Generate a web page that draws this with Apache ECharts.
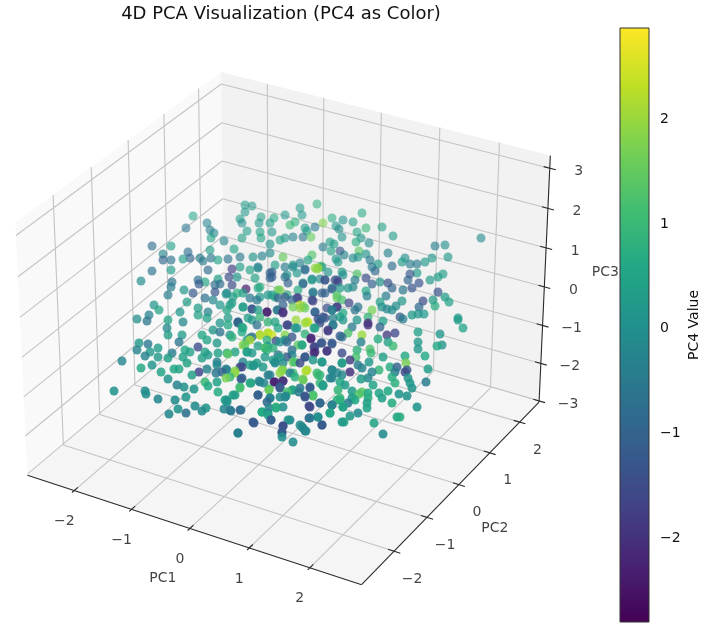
<!DOCTYPE html>
<html><head><meta charset="utf-8"><style>html,body{margin:0;padding:0;background:#fff}#c{width:727px;height:627px}</style>
<script src="https://cdn.jsdelivr.net/npm/echarts@6/dist/echarts.min.js"></script></head><body><div id="c"></div>
<script>
// Tick values and labels
const xTicks=[-2,-1,0,1,2], yTicks=[-2,-1,0,1,2], zTicks=[-3,-2,-1,0,1,2,3], cTicks=[-2,-1,0,1,2];
const xLim=[-2.83,2.84], yLim=[-2.96,2.67], zLim=[-3.03,3.31], cLim=[-2.8,2.87];
// Points: [view x, view y, PC4]
const upperLeft=[[193,216,.5],[207,223,-.3],[186,228,-.6],[210,230,-.4],[214,233,-.2],[211,238,.5],[224,241,-.2],[152,246,-.8],[171,246,.4],[234,249,.5],[163,254,-.2],[188,252,-.8],[190,258,-1],[163,260,-1],[171,260,-.7],[183,259,.3],[200,258,-.4],[203,261,-.5],[211,258,-.6],[218,260,.4],[210,250,.3],[228,259,-.7],[240,257,-.5],[253,257,.1],[262,256,-.3],[270,253,-.1],[152,271,-.6],[171,270,.3],[208,270,-.8],[141,281,-.1],[172,282,-.6],[171,287,-.4],[198,280,-.7],[199,284,-1.2],[205,282,.5],[218,279,.4],[215,285,-.7],[220,284,-.8],[232,285,-1.5],[229,277,-1.5],[232,269,-1.8],[246,289,-2.4],[184,290,.2],[193,293,-1.2],[215,292,-1.3],[168,295,-.4],[205,298,-.7],[213,300,-.2],[220,305,.2],[226,294,.1],[154,305,.1],[159,310,.5],[149,315,-.3],[137,319,-.1],[147,321,-.6],[187,302,.3],[198,308,.3],[180,312,.1],[208,312,-.3],[198,315,.4],[168,320,.5],[183,322,-.2],[207,318,.4],[220,323,.2],[245,205,.3],[252,206,.2],[245,212,.2],[240,219,.3],[242,223,-.1],[261,217,.4],[259,223,.2],[270,223,.3],[274,218,.6],[285,215,.2],[247,231,.3],[260,232,.4],[272,232,.2],[242,238,.4],[261,238,.5],[270,244,.1],[280,240,.4],[285,238,.2],[283,257,1.5],[270,273,-1],[272,277,-1.2],[258,268,-.2],[240,267,.3],[285,277,-.6],[255,278,.5],[260,287,.8],[280,290,1.8],[285,267,-.5],[272,295,.2],[257,300,-.5],[278,298,-1],[285,297,-1.2],[237,293,.8],[243,307,.3],[252,309,-1],[232,303,.4],[267,312,-2.2],[283,312,-2.2],[260,317,.9],[278,310,-1],[248,318,.4],[238,322,-1],[227,310,.5]];
const upperRight=[[300,208,.3],[317,204,.8],[302,215,.2],[295,222,.8],[290,225,1],[332,218,.7],[343,220,.1],[353,222,.3],[362,213,.6],[323,223,1.8],[315,227,-.5],[305,228,.2],[336,226,.2],[339,229,-.1],[366,228,.9],[382,227,.4],[357,232,.6],[393,236,.3],[481,238,-.1],[307,231,.3],[303,237,-.6],[311,237,1.5],[293,237,-.3],[342,237,.1],[361,238,.2],[356,242,.7],[369,243,-.1],[330,242,.4],[334,244,.3],[323,247,-.4],[340,251,-1.3],[331,251,.5],[435,246,-.4],[445,245,-.1],[448,257,.2],[388,253,-.3],[359,251,1.4],[344,255,-.3],[366,254,.1],[336,259,.1],[353,258,-.1],[358,257,.2],[370,260,-.5],[405,258,0],[432,258,.2],[402,262,.3],[410,264,-.4],[417,264,-.5],[425,262,.2],[392,266,-.8],[378,264,.4],[372,267,-.5],[338,262,.2],[308,260,.5],[312,255,1.3],[300,263,-.3],[293,267,-.2],[317,269,1.9],[305,270,-.8],[321,266,1.3],[328,272,.1],[343,275,0],[357,274,1.3],[375,271,-.8],[410,274,-1.2],[408,280,-1],[417,273,.3],[443,274,.4],[438,277,.3],[430,280,.3],[366,278,-1.5],[325,280,-1.5],[335,280,-1.6],[338,282,-1.8],[312,279,-.3],[320,279,-.1],[303,284,-1],[355,280,-.5],[372,284,-1],[380,282,.1],[388,283,-1.4],[392,288,-1],[419,283,-1.3],[412,288,-1.3],[348,288,.1],[353,287,-.2],[403,290,-.5],[366,291,.6],[332,289,-1.2],[313,292,-.1],[322,293,-1],[337,295,1.2],[298,290,.7],[438,292,-1.3],[445,297,.3],[449,302,.4],[367,296,-.3],[386,296,-.4],[423,301,-1.5],[433,300,.3],[380,302,.4],[402,301,.2],[435,306,.7],[419,307,-.9],[396,306,-.1],[382,307,.1],[387,309,-.2],[358,307,-.5],[355,310,-.6],[349,303,-1.6],[337,307,-1.8],[343,313,.6],[332,310,-1.3],[327,308,-1.4],[337,298,1.5],[342,300,1.2],[315,312,-1],[305,308,1.5],[297,298,-2],[312,300,-1.5],[323,317,-1.5],[300,308,1.9],[307,322,2.2],[318,319,-1.7],[333,318,-.3],[343,320,.2],[357,320,.1],[368,317,.9],[372,310,1.7],[392,310,-.1],[400,317,-1.2],[412,315,.2],[424,314,.2],[458,318,.3],[418,314,.1],[383,321,.4],[368,323,-2],[403,319,-.4]];
const lowerLeft=[[122,361,-.2],[114,391,.1],[137,350,-.3],[139,343,.2],[148,344,-.6],[145,356,-.3],[150,352,.2],[141,368,.6],[152,365,.1],[158,348,.3],[158,357,.2],[172,353,-.4],[168,358,.3],[161,372,.5],[168,379,.1],[174,369,.5],[179,369,.5],[187,363,.5],[183,357,.4],[190,352,.4],[185,350,.6],[198,347,-1.5],[179,342,-.6],[182,335,.3],[167,328,-.2],[168,335,.3],[202,335,.5],[207,340,.5],[217,343,.2],[205,352,.5],[202,358,.4],[208,355,.3],[217,362,-.3],[218,353,.4],[227,353,.7],[235,352,.5],[247,352,.1],[192,375,.4],[199,372,-1.6],[207,369,-.3],[216,373,-.6],[222,372,-1],[226,369,-.4],[217,365,-.2],[226,378,1.7],[235,373,1.9],[243,362,-.2],[242,367,-1.5],[254,365,.3],[177,385,-.3],[184,387,0],[194,389,.1],[205,382,1],[208,386,.6],[217,382,.4],[218,392,.7],[145,391,0],[146,394,0],[158,399,-.2],[175,400,-.1],[186,397,.2],[225,400,.3],[227,402,.1],[233,395,.5],[240,388,1.2],[251,383,.3],[241,379,-1.2],[259,381,-.1],[264,383,-.2],[258,395,-1.3],[269,390,1.6],[275,382,-1.9],[283,381,-1.9],[280,387,-1.2],[270,398,-.7],[280,397,-.1],[286,396,0],[178,409,.1],[195,406,-.1],[206,408,.2],[202,411,-.1],[169,414,-.2],[186,413,-.7],[224,409,-.2],[231,411,-.5],[240,410,-1],[262,412,.6],[269,408,-.2],[276,408,.7],[268,415,.5],[271,420,-1],[253,422,-1.3],[238,433,-.8],[283,426,-1.5],[282,433,-1.2],[282,437,0],[285,397,-.2],[260,335,2.1],[268,333,2.3],[243,345,1.9],[247,340,.4],[252,337,-.7],[265,348,1],[273,348,.8],[282,370,1.7],[270,375,-.2],[250,365,.5],[263,367,.2],[275,363,-.1],[232,337,.8],[242,327,.6],[228,325,.6],[220,332,-.6],[213,330,.2],[267,340,.8],[280,342,.1],[285,340,-.2],[287,325,-2],[257,325,-.7],[238,323,-1],[252,353,.2],[278,355,-.6],[287,357,-1.2]];
const lowerRight=[[463,328,.5],[458,320,.3],[440,334,.2],[442,345,.1],[437,346,.6],[418,332,.4],[418,342,.2],[418,349,.2],[425,356,.6],[405,356,.6],[406,363,1.7],[428,369,.3],[426,382,-.4],[417,407,.1],[387,335,-1.8],[395,333,-1.6],[378,339,.7],[388,342,.4],[393,346,1],[370,349,1.3],[371,353,1],[383,357,.4],[390,367,.7],[397,367,-1],[395,372,-.5],[405,372,-1.5],[407,370,-1.2],[379,370,.9],[372,372,-.3],[392,377,.7],[408,378,.1],[395,383,.8],[410,383,.2],[412,388,.1],[388,391,.6],[379,393,.5],[399,394,.1],[407,396,.1],[382,398,.4],[392,403,.7],[397,417,.5],[400,417,.7],[374,423,.5],[383,434,-.1],[344,422,.5],[368,398,.7],[367,403,.4],[367,408,.5],[359,394,1.3],[368,393,.6],[352,391,.3],[352,398,.2],[348,403,-.4],[355,400,.6],[343,407,.3],[337,400,.8],[332,405,-1.6],[330,413,.1],[350,416,.2],[358,413,-.1],[318,417,0],[309,418,-1.3],[322,425,-1.1],[300,425,-.1],[305,431,-.3],[303,428,-.2],[293,442,-.1],[290,420,-.3],[309,406,-1.4],[320,403,-.8],[313,396,1.3],[305,396,-1.2],[299,392,-.4],[310,388,-1.2],[323,386,.4],[292,390,1.2],[295,377,.8],[303,379,1.8],[306,371,2.2],[318,375,1.2],[330,378,-.2],[340,382,.6],[332,370,-.4],[300,363,-1.5],[305,357,-1.3],[313,360,.2],[322,362,.1],[314,353,-2.2],[314,347,-2],[327,351,-1.9],[321,343,-1.2],[332,344,-1.2],[311,338,-2.2],[302,345,.9],[305,334,.9],[314,328,.5],[305,323,2],[328,331,-1.8],[333,325,-1],[340,336,-1.2],[348,333,1.2],[362,335,2],[361,342,-.3],[357,350,.8],[342,353,-1.5],[352,327,-.5],[368,325,-2],[380,327,-1],[356,357,1.2],[350,360,-1.8],[350,372,-2],[358,365,-.5],[362,368,-.3],[369,362,.2],[342,363,.5],[361,379,.3],[373,385,.5],[368,378,-.2],[337,373,-.2],[320,383,1],[293,362,1.5],[292,350,-.8],[298,345,1.4],[292,337,-1.3],[295,328,.2],[320,323,-1.4],[345,385,.3],[362,392,1.4],[340,398,1],[300,305,2.4],[296,320,2],[318,268,2.1],[272,335,2.4],[250,340,2.1]];
const centreUpper=[[237,277,.1],[250,270,.5],[258,267,-.3],[272,272,-1],[270,278,-1],[275,265,.4],[287,275,.1],[288,283,-1],[293,265,.3],[305,269,-.6],[297,273,.2],[303,283,-.1],[315,268,1.9],[312,280,.3],[325,280,-1.2],[322,267,.4],[337,280,-1],[342,272,.4],[325,293,-1],[332,288,-.1],[340,288,.2],[313,293,-.6],[313,301,-1.6],[298,298,-1.6],[292,300,-1],[278,290,1.5],[287,295,.8],[275,297,.6],[268,295,.2],[258,288,.5],[260,297,.3],[250,298,-.5],[243,293,.4],[233,297,.3],[227,293,-.4],[243,307,.4],[252,309,-1.4],[230,305,.3],[228,318,.3],[238,322,-1],[243,328,.5],[252,320,.2],[258,310,.3],[267,312,-2.3],[268,322,.9],[277,310,-.5],[283,313,-2],[283,305,-1],[275,322,.5],[288,325,-1.5],[293,307,1.6],[303,306,1.8],[308,322,2.3],[297,328,.1],[315,328,.4],[320,320,-.8],[315,312,-1],[325,318,-1.3],[337,307,-1.7],[332,310,-.2],[340,317,.4],[342,337,-.8],[328,330,-1.8],[333,325,-.3],[268,333,2.2],[260,335,2.2],[285,335,1.8],[287,342,-.8],[278,328,.5],[250,338,-.5],[230,335,.1],[242,332,.6],[276,341,-1.5],[302,345,.5],[311,339,-2.2],[322,343,-1.3],[332,343,-1.2],[315,347,-1.5],[268,346,.2],[258,346,.4],[245,345,1.5]];
const centreLower=[[327,351,-1.8],[315,352,-1.8],[305,357,-1.2],[267,350,.9],[265,357,.3],[253,366,.1],[247,352,.5],[240,367,-1.5],[235,371,1.8],[228,354,1.4],[230,377,1],[227,370,-.3],[242,378,-.9],[250,383,.7],[240,387,.8],[235,395,.3],[227,400,.2],[230,410,-.4],[241,410,-.7],[258,395,-1],[260,382,-.3],[268,375,-.4],[274,382,-2.3],[283,381,-2],[280,388,-1.2],[269,389,1],[270,398,-.3],[267,402,-.9],[276,407,.9],[283,407,0],[262,412,.6],[268,413,-.2],[271,420,-1.1],[254,423,-1.2],[238,433,-.3],[283,426,-1.4],[282,432,-1.2],[288,420,.1],[302,427,-.1],[306,431,-.2],[322,425,-1.2],[310,418,-.5],[318,417,0],[330,413,.6],[342,422,.2],[332,405,-.1],[310,407,-1.6],[320,403,-.9],[340,400,.8],[313,395,1],[305,397,-1.3],[293,390,.3],[287,392,1.2],[300,388,-.5],[310,387,-1],[323,385,.1],[338,390,.9],[332,378,-.3],[332,370,-.2],[320,375,.9],[317,373,1],[307,370,2.1],[303,380,1.5],[293,373,1],[290,373,-.3],[283,370,1.8],[280,373,1.9],[295,362,1.2],[322,362,.2],[283,363,-.1],[275,362,.2],[257,363,.3],[292,355,-.2],[280,357,.3],[273,360,.3],[265,348,1.2],[342,363,.3],[342,375,-.2],[343,407,.5]];
const title="4D PCA Visualization (PC4 as Color)";
const viridis=["#440154","#482475","#414487","#355f8d","#2a788e","#21918c","#22a884","#44bf70","#7ad151","#bddf26","#fde725"];

// matplotlib's perspective camera: elev 30, azim -60, dist 10
const S=1.1905,H=0.8929,el=30*Math.PI/180,az=-60*Math.PI/180;
function project(x,y,z){
  const X=((x-xLim[0])/(xLim[1]-xLim[0])-.5)*S, Y=((y-yLim[0])/(yLim[1]-yLim[0])-.5)*S, Z=((z-zLim[0])/(zLim[1]-zLim[0])-.5)*H;
  const w=[Math.cos(el)*Math.cos(az),Math.cos(el)*Math.sin(az),Math.sin(el)];
  const n=Math.hypot(w[0],w[1]); const u=[-w[1]/n,w[0]/n,0];
  const v=[w[1]*u[2]-w[2]*u[1],w[2]*u[0]-w[0]*u[2],w[0]*u[1]-w[1]*u[0]];
  const dot=(a)=>a[0]*X+a[1]*Y+a[2]*Z, d=10-dot(w);
  return [288+3215*dot(u)/d, 316-3225*dot(v)/d];
}
const [x0,x1]=xLim,[y0,y1]=yLim,[z0,z1]=zLim;
const panes=[
 {c:"#f9f9f9",p:[[x0,y0,z0],[x0,y1,z0],[x0,y1,z1],[x0,y0,z1]]},
 {c:"#f2f2f2",p:[[x0,y1,z0],[x1,y1,z0],[x1,y1,z1],[x0,y1,z1]]},
 {c:"#f5f5f5",p:[[x0,y0,z0],[x1,y0,z0],[x1,y1,z0],[x0,y1,z0]]}];
const gridSegs=[];
xTicks.forEach(t=>{gridSegs.push([[t,y0,z0],[t,y1,z0]],[[t,y1,z0],[t,y1,z1]]);});
yTicks.forEach(t=>{gridSegs.push([[x1,t,z0],[x0,t,z0]],[[x0,t,z0],[x0,t,z1]]);});
zTicks.forEach(t=>{gridSegs.push([[x0,y0,t],[x0,y1,t]],[[x0,y1,t],[x1,y1,t]]);});
const axisSegs=[[[x0,y0,z0],[x1,y0,z0]],[[x1,y0,z0],[x1,y1,z0]],[[x1,y1,z0],[x1,y1,z1]]];
xTicks.forEach(t=>axisSegs.push([[t,y0-.06,z0],[t,y0+.1,z0]]));
yTicks.forEach(t=>axisSegs.push([[x1+.1,t,z0],[x1-.1,t,z0]]));
zTicks.forEach(t=>axisSegs.push([[x1-.1,y1,t],[x1+.1,y1,t]]));
const fmt=t=>String(t).replace('-','\u2212');
const tickLabels=[];
xTicks.forEach(t=>tickLabels.push({p:project(t,y0,z0),t:fmt(t),o:[-10,31]}));
yTicks.forEach(t=>tickLabels.push({p:project(x1,t,z0),t:fmt(t),o:[18,28]}));
zTicks.forEach(t=>tickLabels.push({p:project(x1,y1,t),t:fmt(t),o:[29,3]}));
tickLabels.push({p:project(0,y0,z0),t:"PC1",o:[-27,50]});
tickLabels.push({p:project(x1,0,z0),t:"PC2",o:[36,44]});
tickLabels.push({p:project(x1,y1,0),t:"PC3",o:[61,-15]});

const font='"DejaVu Sans"';
const pts=[...upperLeft,...upperRight,...lowerLeft,...lowerRight,...centreUpper,...centreLower].sort((a,b)=>a[1]-b[1]);
const chart=echarts.init(document.getElementById('c'),null,{renderer:'canvas'});
function segSeries(name,segs,color,width,z){
  return {type:'custom',name,xAxisIndex:0,yAxisIndex:0,z,silent:true,clip:false,data:segs.map((s,i)=>[i]),
    renderItem:(p,api)=>{const s=segs[p.dataIndex];const a=api.coord(project(...s[0])),b=api.coord(project(...s[1]));
      return {type:'line',shape:{x1:a[0],y1:a[1],x2:b[0],y2:b[1]},style:{stroke:color,lineWidth:width}};}};
}
chart.setOption({
  animation:false,
  title:{text:title,left:276,top:0,textAlign:'center',textStyle:{fontFamily:font,fontSize:18,fontWeight:'normal',color:'#111'}},
  grid:[{left:0,top:0,width:727,height:627},{left:620,top:28,width:29,height:594}],
  xAxis:[{type:'value',min:0,max:727,show:false,gridIndex:0},{type:'value',min:0,max:1,show:false,gridIndex:1}],
  yAxis:[{type:'value',min:0,max:627,inverse:true,show:false,gridIndex:0},
    {type:'value',gridIndex:1,position:'right',min:cLim[0],max:cLim[1],
     name:'PC4 Value',nameLocation:'middle',nameGap:38,nameRotate:90,nameTextStyle:{fontFamily:font,fontSize:14,color:'#111'},
     splitLine:{show:false},
     axisLine:{show:false},
     axisTick:{show:true,length:4,customValues:cTicks,lineStyle:{color:'#222',width:1}},
     axisLabel:{show:true,customValues:cTicks,margin:11,fontFamily:font,fontSize:14,color:'#111',formatter:v=>fmt(v)}}],
  series:[
   {type:'custom',name:'panes',xAxisIndex:0,yAxisIndex:0,z:1,silent:true,clip:false,data:panes.map((s,i)=>[i]),
    renderItem:(p,api)=>{const o=panes[p.dataIndex];return {type:'polygon',shape:{points:o.p.map(q=>api.coord(project(...q)))},style:{fill:o.c}};}},
   segSeries('grid',gridSegs,'#c4c4c4',1.1,2),
   segSeries('axes',axisSegs,'#2a2a2a',1.1,3),
   {type:'scatter',name:'PC4',xAxisIndex:0,yAxisIndex:0,z:4,clip:false,symbolSize:9,silent:true,
    data:pts.map(p=>{const t=(p[2]-cLim[0])/(cLim[1]-cLim[0])*(viridis.length-1);const i=Math.min(viridis.length-2,Math.floor(t));
      const c=echarts.color.lerp(t-i,[viridis[i],viridis[i+1]]);
      return {value:p,itemStyle:{color:c,opacity:Math.max(.55,Math.min(.88,.55+(p[1]-200)/200*.33))}};})},
   {type:'scatter',name:'labels',xAxisIndex:0,yAxisIndex:0,z:5,clip:false,symbolSize:1,silent:true,itemStyle:{color:'rgba(0,0,0,0)'},
    data:tickLabels.map(l=>({value:l.p,label:{show:true,position:'inside',formatter:l.t,offset:l.o,fontFamily:font,fontSize:14,color:'#111'}}))},
   {type:'custom',name:'colorbar',xAxisIndex:1,yAxisIndex:1,z:3,silent:true,clip:false,data:[[0]],
    renderItem:(p,api)=>{const a=api.coord([0,cLim[1]]),b=api.coord([1,cLim[0]]);
      return {type:'rect',shape:{x:a[0],y:a[1],width:b[0]-a[0],height:b[1]-a[1]},
       style:{stroke:'#333',lineWidth:1,fill:new echarts.graphic.LinearGradient(0,1,0,0,viridis.map((c,i)=>({offset:i/(viridis.length-1),color:c})))}};}}
  ]
});
</script></body></html>
